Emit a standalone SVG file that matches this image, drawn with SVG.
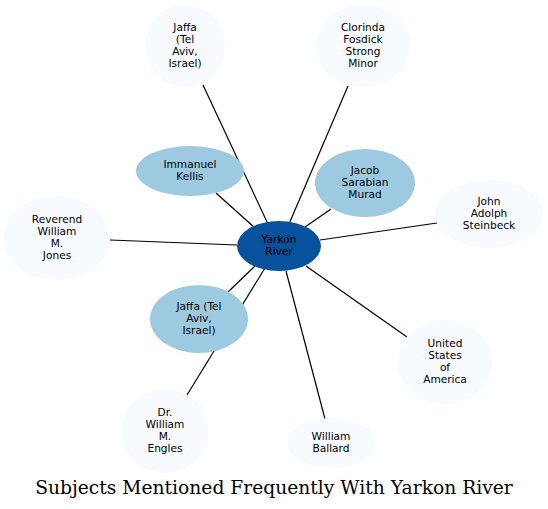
<svg xmlns="http://www.w3.org/2000/svg" width="548" height="509" viewBox="0 0 548 509">
<style>
.l{fill:#f7fbff}.m{fill:#9ecae1}.d{fill:#08519c}
text{font-family:"DejaVu Sans",sans-serif;font-size:10.6px;text-anchor:middle;fill:#000}
.e line{stroke:#000;stroke-width:1.2}
.t{font-family:"DejaVu Serif",serif;font-size:18.7px}
</style>
<rect width="548" height="509" fill="#fff"/>
<g class="e">
<line x1="268" y1="224" x2="203" y2="85"/>
<line x1="289" y1="224" x2="348" y2="86"/>
<line x1="255" y1="228" x2="216" y2="193"/>
<line x1="305" y1="227" x2="331" y2="209"/>
<line x1="320" y1="240" x2="437" y2="223"/>
<line x1="237" y1="245" x2="110" y2="240"/>
<line x1="255" y1="266" x2="228" y2="292"/>
<line x1="265" y1="268" x2="187" y2="395"/>
<line x1="286" y1="271" x2="325" y2="419"/>
<line x1="306" y1="266" x2="407" y2="337"/>
</g>
<g id="jaffa1"><ellipse class="l" cx="185" cy="46" rx="40" ry="41"/><text><tspan x="185" y="31">Jaffa</tspan><tspan x="185" y="43">(Tel</tspan><tspan x="185" y="55">Aviv,</tspan><tspan x="185" y="67">Israel)</tspan></text></g>
<g id="clorinda"><ellipse class="l" cx="363" cy="46" rx="47" ry="41"/><text><tspan x="363" y="31">Clorinda</tspan><tspan x="363" y="43">Fosdick</tspan><tspan x="363" y="55">Strong</tspan><tspan x="363" y="67">Minor</tspan></text></g>
<g id="immanuel"><ellipse class="m" cx="190" cy="171" rx="54" ry="25"/><text><tspan x="190" y="168">Immanuel</tspan><tspan x="190" y="180">Kellis</tspan></text></g>
<g id="jacob"><ellipse class="m" cx="365" cy="183" rx="50" ry="34"/><text><tspan x="365" y="174">Jacob</tspan><tspan x="365" y="186">Sarabian</tspan><tspan x="365" y="198">Murad</tspan></text></g>
<g id="john"><ellipse class="l" cx="489" cy="214" rx="54" ry="34"/><text><tspan x="489" y="205">John</tspan><tspan x="489" y="217">Adolph</tspan><tspan x="489" y="229">Steinbeck</tspan></text></g>
<g id="reverend"><ellipse class="l" cx="57" cy="238" rx="53" ry="42"/><text><tspan x="57" y="223">Reverend</tspan><tspan x="57" y="235">William</tspan><tspan x="57" y="247">M.</tspan><tspan x="57" y="259">Jones</tspan></text></g>
<g id="yarkon"><ellipse class="d" cx="279" cy="246" rx="42" ry="25"/><text><tspan x="279" y="243">Yarkon</tspan><tspan x="279" y="255">River</tspan></text></g>
<g id="jaffa2"><ellipse class="m" cx="199" cy="319" rx="49" ry="34"/><text><tspan x="199" y="310">Jaffa (Tel</tspan><tspan x="199" y="322">Aviv,</tspan><tspan x="199" y="334">Israel)</tspan></text></g>
<g id="usa"><ellipse class="l" cx="445" cy="362" rx="47" ry="42"/><text><tspan x="445" y="347">United</tspan><tspan x="445" y="359">States</tspan><tspan x="445" y="371">of</tspan><tspan x="445" y="383">America</tspan></text></g>
<g id="engles"><ellipse class="l" cx="165" cy="431" rx="44" ry="42"/><text><tspan x="165" y="416">Dr.</tspan><tspan x="165" y="428">William</tspan><tspan x="165" y="440">M.</tspan><tspan x="165" y="452">Engles</tspan></text></g>
<g id="ballard"><ellipse class="l" cx="331" cy="443" rx="44" ry="25"/><text><tspan x="331" y="440">William</tspan><tspan x="331" y="452">Ballard</tspan></text></g>
<text class="t" x="274" y="494">Subjects Mentioned Frequently With Yarkon River</text>
</svg>
